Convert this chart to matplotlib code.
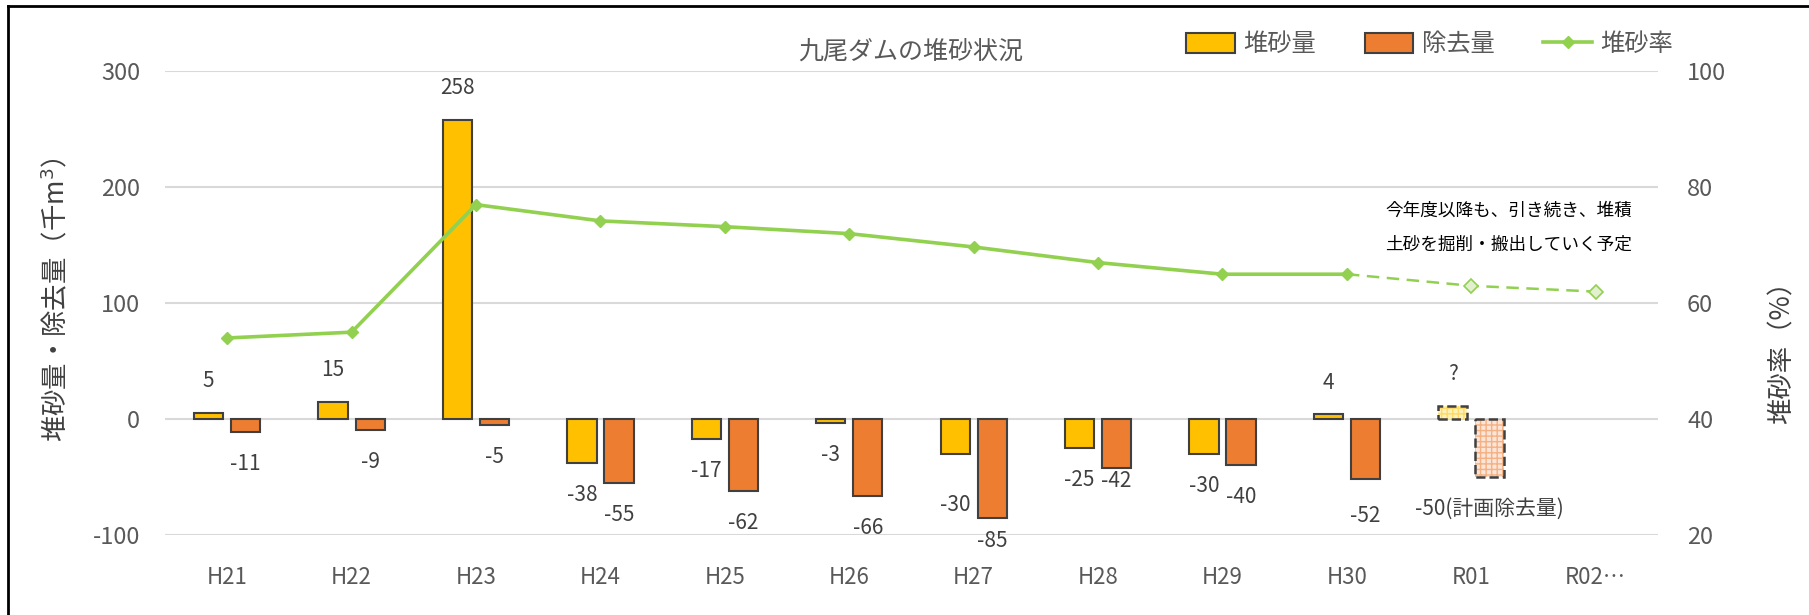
import numpy as np
import matplotlib
matplotlib.use("Agg")
import matplotlib.pyplot as plt
from matplotlib.lines import Line2D
from matplotlib.patches import Patch

plt.rcParams['font.family'] = ['Noto Sans CJK JP', 'DejaVu Sans']
plt.rcParams['axes.unicode_minus'] = False

# data
years = ['H21', 'H22', 'H23', 'H24', 'H25', 'H26', 'H27', 'H28', 'H29', 'H30', 'R01', 'R02…']
deposit = [5, 15, 258, -38, -17, -3, -30, -25, -30, 4, 11, np.nan]
removal = [-11, -9, -5, -55, -62, -66, -85, -42, -40, -52, -50, np.nan]
rate = [54, 55, 77, 74.2, 73.2, 72, 69.7, 67, 65, 65, 63, 62]
deposit_lbl = ['5', '15', '258', '-38', '-17', '-3', '-30', '-25', '-30', '4', '?', '']
removal_lbl = ['-11', '-9', '-5', '-55', '-62', '-66', '-85', '-42', '-40', '-52', '-50(計画除去量)', '']

YELLOW = '#FFC000'
ORANGE = '#ED7D31'
GREEN = '#92D050'
GRAY = '#595959'
EDGE = '#404040'

fig = plt.figure(figsize=(18.09, 6.15), dpi=100)
ax = fig.add_axes([0.0912, 0.130, 0.8253, 0.754])

x = np.arange(len(years))
w = 0.235
off = 0.149
n_act = 10  # actual years, R01 is planned

ax.bar(x[:n_act] - off, deposit[:n_act], w, color=YELLOW, edgecolor=EDGE, linewidth=1.5, zorder=3)
ax.bar(x[:n_act] + off, removal[:n_act], w, color=ORANGE, edgecolor=EDGE, linewidth=1.5, zorder=3)

# planned bars (R01): hatched light fill + dashed outline
i = n_act
ax.bar(x[i] - off, deposit[i], w, color='#FFF2B8', edgecolor='#FFD966', hatch='+++', linewidth=0, zorder=3)
ax.bar(x[i] - off, deposit[i], w, fill=False, edgecolor=EDGE, linestyle='--', linewidth=1.8, zorder=4)
ax.bar(x[i] + off, removal[i], w, color='#FCE4D6', edgecolor='#F4B183', hatch='+++', linewidth=0, zorder=3)
ax.bar(x[i] + off, removal[i], w, fill=False, edgecolor=EDGE, linestyle='--', linewidth=1.8, zorder=4)

# data labels (offset in points from bar end)
dep_off = {6: 37}
rem_off = {6: 16.5, 7: 9.5, 9: 26}
for k in range(len(years)):
    if deposit_lbl[k]:
        v = deposit[k]
        d = dep_off.get(k, 23)
        ax.annotate(deposit_lbl[k], (x[k] - off, v), xytext=(0, d if v >= 0 else -d),
                    textcoords='offset points', ha='center', va='center', fontsize=15, color=EDGE)
    if removal_lbl[k]:
        v = removal[k]
        d = rem_off.get(k, 23)
        ax.annotate(removal_lbl[k], (x[k] + off, v), xytext=(0, -d),
                    textcoords='offset points', ha='center', va='center', fontsize=15, color=EDGE)

ax.set_xlim(-0.5, len(years) - 0.5)
ax.set_ylim(-100, 300)
ax.set_yticks([-100, 0, 100, 200, 300])
ax.set_xticks(x)
ax.set_xticklabels(years)
ax.grid(axis='y', color='#D9D9D9', linewidth=1.5, zorder=0)
ax.set_axisbelow(True)
for s in ax.spines.values():
    s.set_visible(False)
ax.tick_params(axis='y', length=0, pad=18, labelsize=17, labelcolor=GRAY)
ax.tick_params(axis='x', length=0, pad=22, labelsize=16, labelcolor=GRAY)

# sedimentation rate on the right axis
ax2 = ax.twinx()
ax2.set_ylim(20, 100)
ax2.set_yticks([20, 40, 60, 80, 100])
for s in ax2.spines.values():
    s.set_visible(False)
ax2.tick_params(axis='y', length=0, pad=21, labelsize=17, labelcolor=GRAY)
ax2.plot(x[:n_act], rate[:n_act], color=GREEN, lw=2.6, marker='D', markersize=6.5, zorder=5)
ax2.plot(x[n_act - 1:], rate[n_act - 1:], color=GREEN, lw=1.8, ls=(0, (5, 3)), zorder=5)
ax2.plot(x[n_act:], rate[n_act:], ls='none', marker='D', markersize=7, markerfacecolor='#E2F0D0',
         markeredgecolor=GREEN, markeredgewidth=1.2, zorder=6)

ax2.text(x[11] - 0.7, 75.9, '今年度以降も、引き続き、堆積', fontsize=12.7, color='black', ha='center', va='center')
ax2.text(x[11] - 0.7, 70.1, '土砂を掘削・搬出していく予定', fontsize=12.7, color='black', ha='center', va='center')

# titles and axis labels
fig.text(0.5036, 0.9154, '九尾ダムの堆砂状況', fontsize=18, color=GRAY, ha='center', va='center')
fig.text(0.0305, 0.512, '堆砂量・除去量（千m$^3$）', fontsize=19, color=EDGE, rotation=90, ha='center', va='center')
fig.text(0.985, 0.437, '堆砂率（%）', fontsize=19, color=EDGE, rotation=90, ha='center', va='center')

handles = [Patch(facecolor=YELLOW, edgecolor=EDGE, linewidth=1.5),
           Patch(facecolor=ORANGE, edgecolor=EDGE, linewidth=1.5),
           Line2D([0], [0], color=GREEN, lw=2.6, marker='D', markersize=6)]
fig.legend(handles, ['堆砂量', '除去量', '堆砂率'], ncol=3, frameon=False, fontsize=17.5,
           loc='center right', bbox_to_anchor=(0.937, 0.928), handlelength=2.0, handleheight=0.9,
           columnspacing=2.0, handletextpad=0.35, labelcolor=GRAY)

# outer frame (left and top edges only, as cropped)
fig.add_artist(Line2D([0.0046, 0.0046], [0, 0.99], transform=fig.transFigure, color='black', lw=2))
fig.add_artist(Line2D([0.0046, 1.0], [0.99, 0.99], transform=fig.transFigure, color='black', lw=2))

fig.savefig('out.png', dpi=100)
